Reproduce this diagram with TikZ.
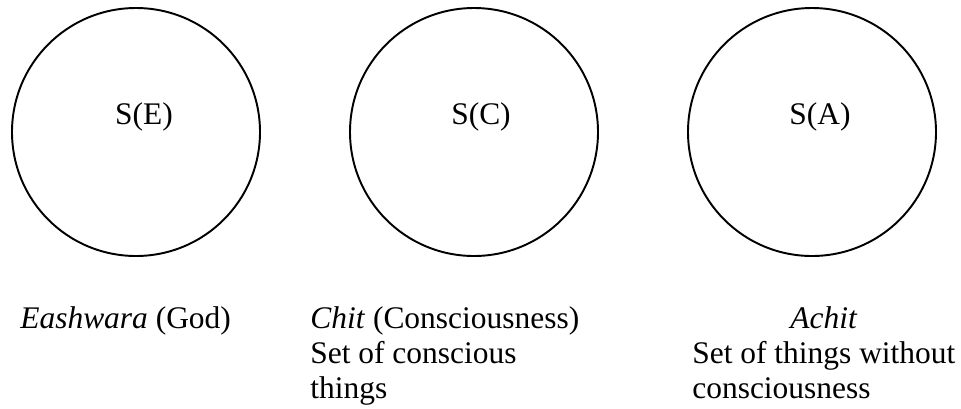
\documentclass[tikz,border=0pt]{standalone}
\usepackage{fontspec}
\setmainfont{Liberation Serif}
\usetikzlibrary{positioning}

\begin{document}
\begin{tikzpicture}[
  font=\fontsize{17.9}{19.9}\selectfont,
  ring/.style={draw, circle, line width=1.1pt, minimum size=4.96cm,
               inner sep=0pt},
  setlbl/.style={inner sep=0pt},
  desc/.style={align=left, inner sep=0pt, anchor=base west},
]
\useasboundingbox (0,0) rectangle (19.22,-8.16);

\node[ring] (ce) at (2.72,-2.64) {};
\node[ring] (cc) at (9.48,-2.64) {};
\node[ring] (ca) at (16.24,-2.64) {};

\node[setlbl] (le) at ([xshift=1.6mm,yshift=3mm]ce.center) {S(E)};
\node[setlbl] (lc) at ([xshift=1.4mm,yshift=3mm]cc.center) {S(C)};
\node[setlbl] (la) at ([xshift=1.6mm,yshift=3mm]ca.center) {S(A)};

% multi-line nodes sit on their last line
\node[desc] (de) at (0.40,-6.56) {\textit{Eashwara} (God)};
\node[desc] (dc) at (6.20,-7.96)
     {\textit{Chit} (Consciousness)\\ Set of conscious\\ things};
\node[desc] (da) at (13.84,-7.96)
     {Set of things without\\ consciousness};
\node[setlbl, anchor=base] (na) at (da.north |- de.base) {\textit{Achit}};

\end{tikzpicture}
\end{document}
